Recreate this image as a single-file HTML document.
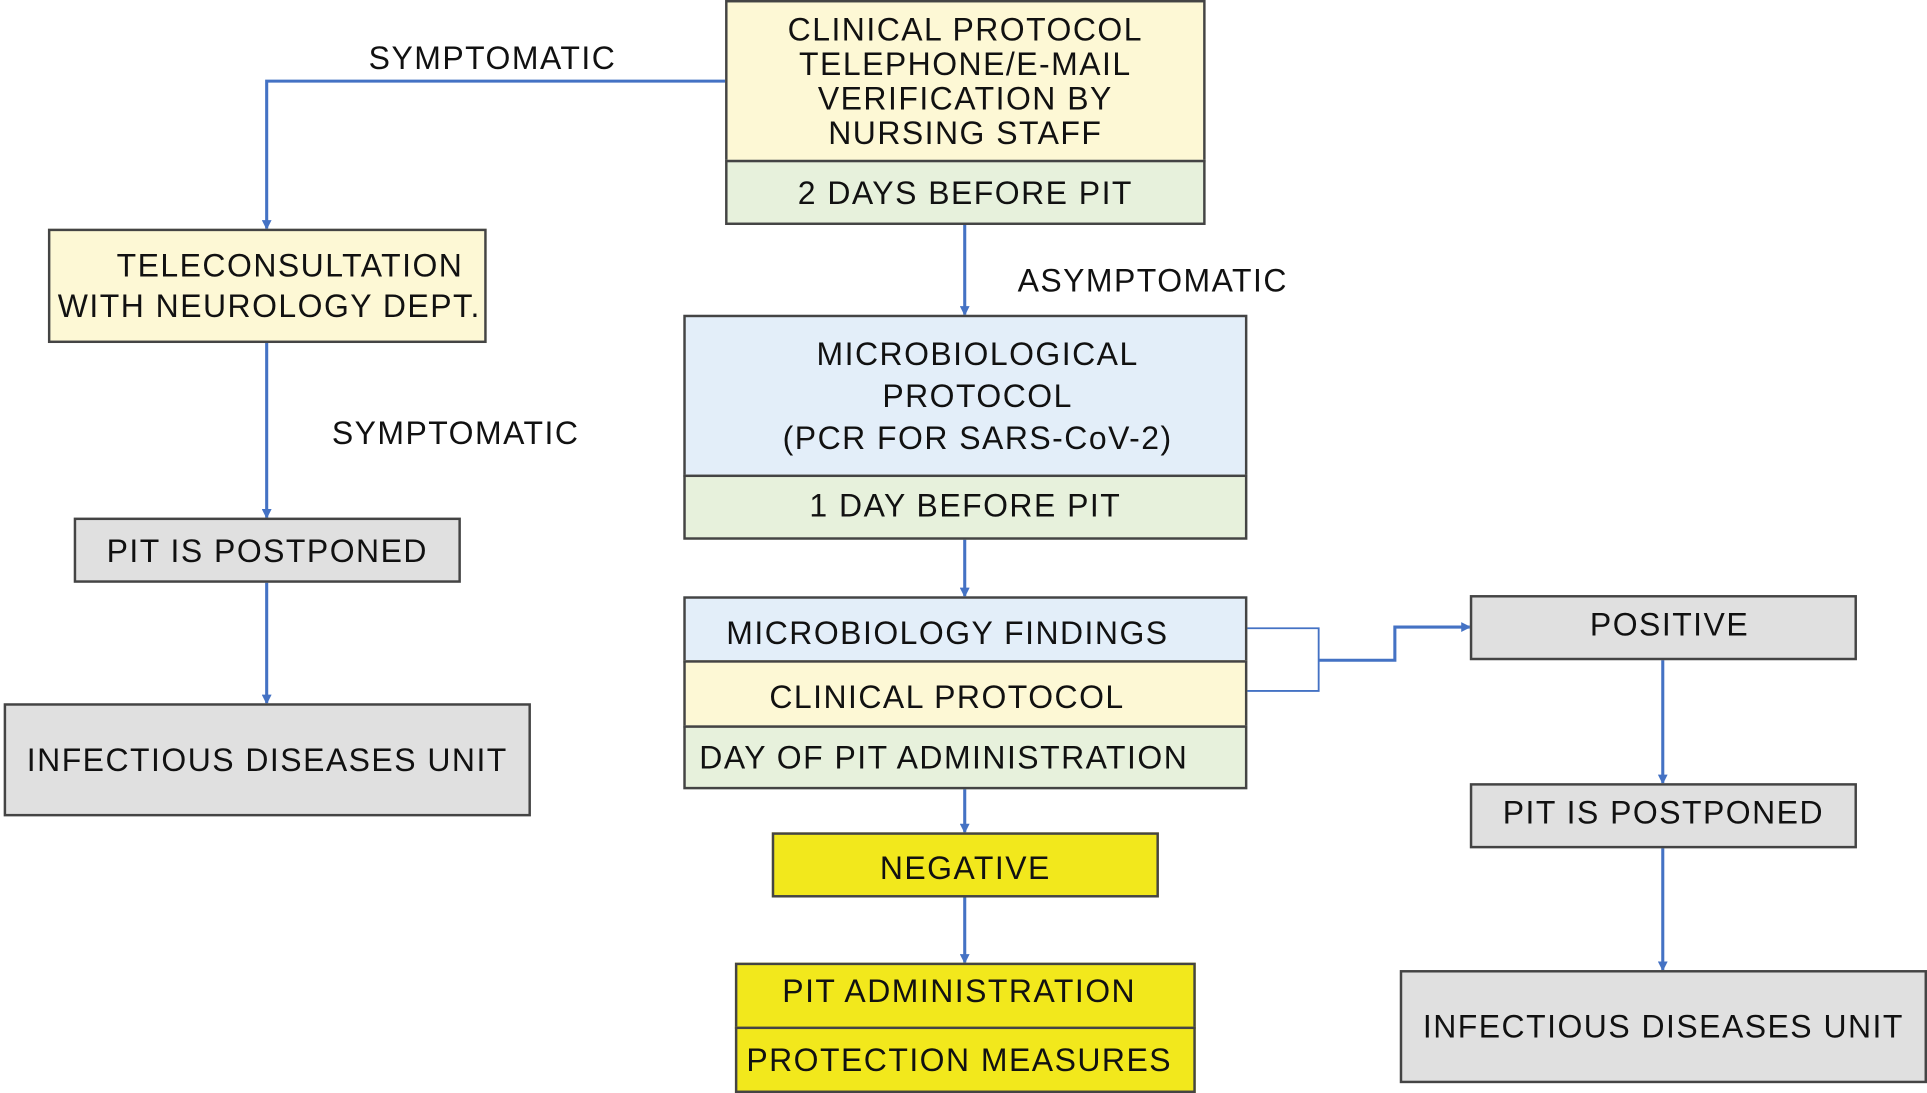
<!DOCTYPE html>
<html><head><style>
html,body{margin:0;padding:0;background:#fff;overflow:hidden;width:1927px;height:1093px}
#c{position:absolute;left:0;top:0;width:1568px;height:889px;transform:scale(1.22895,1.22947);transform-origin:0 0;font-family:"Liberation Sans",sans-serif;color:#111}
.b{position:absolute;box-sizing:border-box;border:2px solid #444;display:flex;align-items:center;justify-content:center;text-align:center;font-size:26px;letter-spacing:1.2px;line-height:28px;white-space:nowrap}
.y{background:#fdf8d5}.g{background:#e7f1dc}.bl{background:#e3eef9}.gr{background:#e0e0e0}.yy{background:#f2e81c}
.t{position:absolute;font-size:26px;letter-spacing:1.2px}
</style></head><body><div id="c">
<svg width="1568" height="889" style="position:absolute;left:0;top:0">
<defs><marker id="a" markerWidth="8" markerHeight="8" refX="7" refY="4" orient="auto" markerUnits="userSpaceOnUse"><path d="M0,0 L8,4 L0,8z" fill="#4472c4"/></marker></defs>
<g stroke="#4472c4" stroke-width="2.5" fill="none">
<path d="M590,66 H217 V186" marker-end="url(#a)"/>
<path d="M217,278 V421" marker-end="url(#a)"/>
<path d="M217,473 V572" marker-end="url(#a)"/>
<path d="M785,182 V256" marker-end="url(#a)"/>
<path d="M785,438 V485" marker-end="url(#a)"/>
<path d="M785,641 V677" marker-end="url(#a)"/>
<path d="M785,729 V783" marker-end="url(#a)"/>
<path d="M1073,537 H1135 V510 H1196" marker-end="url(#a)"/>
<path d="M1353,536 V637" marker-end="url(#a)"/>
<path d="M1353,689 V789" marker-end="url(#a)"/>
</g>
<path d="M1014,511 H1073 V562 H1014" stroke="#4472c4" stroke-width="1.5" fill="none"/>
</svg>
<div class="b y" style="left:590px;top:0;width:391px;height:132px">CLINICAL PROTOCOL<br>TELEPHONE/E-MAIL<br>VERIFICATION BY<br>NURSING STAFF</div>
<div class="b g" style="left:590px;top:130px;width:391px;height:53px">2 DAYS BEFORE PIT</div>
<div class="b y" style="left:39px;top:186px;width:357px;height:93px;line-height:33px;justify-content:flex-start;padding-left:6px">&nbsp;&nbsp;&nbsp;&nbsp;TELECONSULTATION<br>WITH NEUROLOGY DEPT.</div>
<div class="b gr" style="left:60px;top:421px;width:315px;height:53px">PIT IS POSTPONED</div>
<div class="b gr" style="left:3px;top:572px;width:429px;height:92px">INFECTIOUS DISEASES UNIT</div>
<div class="b bl" style="left:556px;top:256px;width:459px;height:132px;line-height:34px;padding-left:20px">MICROBIOLOGICAL<br>PROTOCOL<br>(PCR FOR SARS-CoV-2)</div>
<div class="b g" style="left:556px;top:386px;width:459px;height:53px;padding-bottom:4px">1 DAY BEFORE PIT</div>
<div class="b bl" style="left:556px;top:485px;width:459px;height:54px;justify-content:flex-start;padding-left:33px;padding-top:6px">MICROBIOLOGY FINDINGS</div>
<div class="b y" style="left:556px;top:537px;width:459px;height:55px;justify-content:flex-start;padding-left:68px;padding-top:4px">CLINICAL PROTOCOL</div>
<div class="b g" style="left:556px;top:590px;width:459px;height:52px;justify-content:flex-start;padding-left:11px">DAY OF PIT ADMINISTRATION</div>
<div class="b yy" style="left:628px;top:677px;width:315px;height:53px;padding-top:4px">NEGATIVE</div>
<div class="b yy" style="left:598px;top:783px;width:375px;height:54px;padding-right:10px;padding-bottom:8px">PIT ADMINISTRATION</div>
<div class="b yy" style="left:598px;top:835px;width:375px;height:54px;padding-right:10px">PROTECTION MEASURES</div>
<div class="b gr" style="left:1196px;top:484px;width:315px;height:53px;padding-bottom:5px;padding-left:10px">POSITIVE</div>
<div class="b gr" style="left:1196px;top:637px;width:315px;height:53px;padding-bottom:5px">PIT IS POSTPONED</div>
<div class="b gr" style="left:1139px;top:789px;width:429px;height:92px">INFECTIOUS DISEASES UNIT</div>
<div class="t" style="left:300px;top:32px">SYMPTOMATIC</div>
<div class="t" style="left:828px;top:213px">ASYMPTOMATIC</div>
<div class="t" style="left:270px;top:337px">SYMPTOMATIC</div>
</div></body></html>
